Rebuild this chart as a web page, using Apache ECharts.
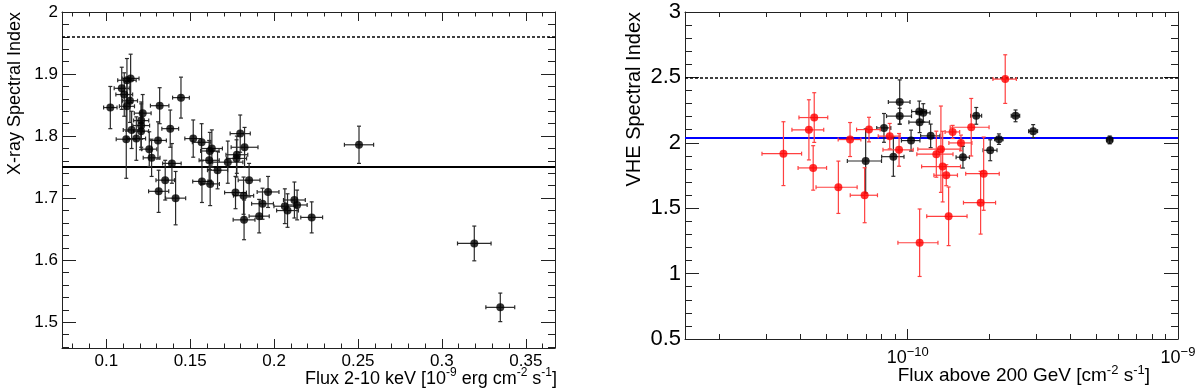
<!DOCTYPE html>
<html><head><meta charset="utf-8">
<script src="https://cdn.jsdelivr.net/npm/echarts@6/dist/echarts.min.js"></script>
<style>html,body{margin:0;padding:0;background:#fff}#c{width:1200px;height:390px}</style>
</head><body><div id="c"></div>
<script>
const FONT = '"Liberation Sans", Arial, Helvetica, sans-serif';

// ---------- Left panel: X-ray ----------
const xrayFlux = [0.1024,0.1092,0.1107,0.1123,0.1145,0.1141,0.1123,0.1217,0.1318,0.1445,0.1208,0.1208,0.1151,0.1207,0.1381,0.1119,0.1179,0.1308,0.1518,0.1568,0.1256,0.1270,0.1391,0.1629,0.1617,0.1613,0.1663,0.1351,0.1312,0.1413,0.1570,0.1619,0.1724,0.1798,0.1824,0.1778,0.1776,0.1851,0.1770,0.1818,0.1821,0.1911,0.1931,0.1964,0.2064,0.2080,0.2121,0.2137,0.2224,0.2506,0.3193,0.3348];
const xrayIndex = [1.846,1.877,1.867,1.890,1.893,1.857,1.848,1.837,1.849,1.862,1.825,1.817,1.810,1.808,1.812,1.795,1.796,1.793,1.796,1.790,1.779,1.765,1.756,1.780,1.776,1.761,1.745,1.729,1.711,1.700,1.727,1.723,1.758,1.804,1.782,1.770,1.764,1.729,1.709,1.704,1.665,1.671,1.691,1.710,1.687,1.680,1.697,1.689,1.669,1.786,1.627,1.524];
const xrayFluxErr = [0.0040,0.0045,0.0050,0.0055,0.0050,0.0045,0.0045,0.0050,0.0055,0.0050,0.0045,0.0050,0.0050,0.0045,0.0050,0.0060,0.0055,0.0050,0.0050,0.0055,0.0045,0.0050,0.0055,0.0063,0.0055,0.0060,0.0060,0.0055,0.0060,0.0060,0.0055,0.0055,0.0090,0.0060,0.0080,0.0065,0.0060,0.0065,0.0065,0.0060,0.0065,0.0060,0.0065,0.0065,0.0065,0.0065,0.0065,0.0060,0.0065,0.0087,0.0100,0.0086];
const xrayIndexErr = [0.034,0.034,0.035,0.035,0.039,0.035,0.040,0.030,0.029,0.033,0.030,0.035,0.030,0.030,0.030,0.063,0.035,0.030,0.030,0.030,0.028,0.030,0.032,0.030,0.030,0.032,0.030,0.032,0.034,0.043,0.034,0.035,0.034,0.030,0.032,0.030,0.030,0.027,0.026,0.030,0.032,0.027,0.025,0.025,0.028,0.027,0.029,0.024,0.025,0.030,0.028,0.023];
const xrayFitIndex = 1.752;
const xrayRefIndex = 1.96;
const xrayXRange = [0.0736, 0.3674];
const xrayYRange = [1.4585, 2.0];
const xrayXMajor = [0.1,0.15,0.2,0.25,0.3,0.35];
const xrayXMinor = [0.08,0.09,0.11,0.12,0.13,0.14,0.16,0.17,0.18,0.19,0.21,0.22,0.23,0.24,0.26,0.27,0.28,0.29,0.31,0.32,0.33,0.34,0.36];
const xrayYMajor = [1.5,1.6,1.7,1.8,1.9,2.0];
const xrayYMinor = [1.46,1.48,1.52,1.54,1.56,1.58,1.62,1.64,1.66,1.68,1.72,1.74,1.76,1.78,1.82,1.84,1.86,1.88,1.92,1.94,1.96,1.98];

// ---------- Right panel: VHE ----------
const vheBlackFlux = [6.99e-11,8.17e-11,8.85e-11,9.34e-11,9.34e-11,1.029e-10,1.104e-10,1.142e-10,1.107e-10,1.216e-10,1.601e-10,1.793e-10,2.020e-10,2.175e-10,2.506e-10,2.912e-10,5.590e-10];
const vheBlackIndex = [1.861,2.114,1.894,2.311,2.204,2.017,2.239,2.229,2.158,2.053,1.890,2.206,1.943,2.028,2.206,2.089,2.022];
const vheBlackFluxErr = [1.01e-11,4.9e-12,8.4e-12,8.6e-12,9.9e-12,8.1e-12,7.0e-12,6.8e-12,9.7e-12,1.00e-11,9.1e-12,8.4e-12,1.20e-11,7.8e-12,9.0e-12,1.11e-11,1.29e-11];
const vheBlackIndexErr = [0.245,0.11,0.15,0.17,0.06,0.08,0.08,0.07,0.08,0.09,0.083,0.064,0.08,0.04,0.045,0.05,0.03];
const vheRedFlux = [3.47e-11,4.31e-11,4.51e-11,4.47e-11,5.54e-11,6.12e-11,6.93e-11,7.19e-11,8.58e-11,9.29e-11,1.107e-10,1.417e-10,1.276e-10,1.327e-10,1.347e-10,1.389e-10,1.466e-10,1.574e-10,1.718e-10,1.910e-10,1.861e-10,2.295e-10];
const vheRedIndex = [1.917,2.099,2.193,1.808,1.660,2.025,1.599,2.101,2.051,1.946,1.236,1.438,1.913,1.951,1.818,1.752,2.083,1.999,2.119,1.764,1.542,2.487];
const vheRedFluxErr = [5.8e-12,5.8e-12,5.5e-12,5.4e-12,9.6e-12,5.9e-12,8.0e-12,7.2e-12,8.0e-12,1.19e-11,1.87e-11,2.41e-11,1.95e-11,2.37e-11,2.21e-11,1.39e-11,9.1e-12,1.54e-11,2.82e-11,2.71e-11,2.53e-11,2.28e-11];
const vheRedIndexErr = [0.244,0.23,0.19,0.17,0.20,0.13,0.21,0.094,0.097,0.125,0.258,0.224,0.176,0.33,0.27,0.08,0.05,0.06,0.22,0.28,0.24,0.186];
const vheFitIndex = 2.043;
const vheRefIndex = 2.5;
const vheXRange = [1.5e-11, 1e-9];
const vheYRange = [0.5, 3];
const vheXMajor = [1e-10, 1e-9];
const vheXMinor = [2e-11,3e-11,4e-11,5e-11,6e-11,7e-11,8e-11,9e-11,2e-10,3e-10,4e-10,5e-10,6e-10,7e-10,8e-10,9e-10];
const vheYMajor = [0.5,1,1.5,2,2.5,3];
const vheYMinor = [0.6,0.7,0.8,0.9,1.1,1.2,1.3,1.4,1.6,1.7,1.8,1.9,2.1,2.2,2.3,2.4,2.6,2.7,2.8,2.9];

const AX = '#222';
function axis(o) {
  return {
    type: o.type || 'value', gridIndex: o.grid, position: o.pos,
    min: o.min, max: o.max, scale: true,
    axisLine: {show: !!o.line, onZero: false, lineStyle: {color: AX, width: 1}},
    axisTick: {show: true, inside: true, length: o.len, customValues: o.ticks, lineStyle: {color: AX, width: 1}},
    axisLabel: o.labels ? Object.assign({show: true, customValues: o.ticks, color: '#000', fontFamily: FONT}, o.labels) : {show: false},
    splitLine: {show: false}, minorTick: {show: false}, axisPointer: {show: false}
  };
}
const L10 = a => a.map(v => Math.log10(v));

function errRender(color) {
  return function (params, api) {
    const x = api.value(0), y = api.value(1), ex = api.value(2), ey = api.value(3);
    const c = api.coord([x, y]);
    const l = api.coord([x - ex, y]), r = api.coord([x + ex, y]);
    const t = api.coord([x, y + ey]), b = api.coord([x, y - ey]);
    const cap = 2;
    const ln = (x1, y1, x2, y2) => ({type: 'line', shape: {x1, y1, x2, y2}, style: {stroke: color, lineWidth: 1.2}});
    return {type: 'group', children: [
      ln(l[0], c[1], r[0], c[1]), ln(c[0], t[1], c[0], b[1]),
      ln(l[0], c[1] - cap, l[0], c[1] + cap), ln(r[0], c[1] - cap, r[0], c[1] + cap),
      ln(c[0] - cap, t[1], c[0] + cap, t[1]), ln(c[0] - cap, b[1], c[0] + cap, b[1])
    ]};
  };
}
function rows(xs, ys, exs, eys) { return xs.map((x, i) => [x, ys[i], exs[i], eys[i]]); }
function hline(v, color, width, type) {
  return {yAxis: v, lineStyle: {color, width, type}};
}

const chart = echarts.init(document.getElementById('c'), null, {renderer: 'canvas'});
const option = {
  animation: false,
  backgroundColor: '#fff',
  textStyle: {fontFamily: FONT},
  grid: [
    {left: 62, top: 12, width: 493, height: 336, outerBoundsMode: 'none', containLabel: false},
    {left: 685, top: 12, width: 493, height: 327, outerBoundsMode: 'none', containLabel: false}
  ],
  xAxis: [
    axis({grid: 0, pos: 'bottom', min: xrayXRange[0], max: xrayXRange[1], line: true, len: 9, ticks: xrayXMajor, labels: {fontSize: 17, margin: 5}}),
    axis({grid: 0, pos: 'bottom', min: xrayXRange[0], max: xrayXRange[1], len: 4.5, ticks: xrayXMinor}),
    axis({grid: 0, pos: 'top', min: xrayXRange[0], max: xrayXRange[1], line: true, len: 9, ticks: xrayXMajor}),
    axis({grid: 0, pos: 'top', min: xrayXRange[0], max: xrayXRange[1], len: 4.5, ticks: xrayXMinor}),
    {type: 'log', gridIndex: 1, position: 'bottom', min: vheXRange[0], max: vheXRange[1], logBase: 10,
      axisLine: {show: false}, axisTick: {show: false}, axisLabel: {show: false}, splitLine: {show: false}, minorTick: {show: false}},
    axis({grid: 1, pos: 'bottom', min: Math.log10(vheXRange[0]), max: Math.log10(vheXRange[1]), line: true, len: 10, ticks: L10(vheXMajor),
      labels: {margin: 7, formatter: v => '{b|10}{s|\u2212' + Math.abs(Math.round(v)) + '}',
        rich: {b: {fontSize: 18, fontFamily: FONT, color: '#000'}, s: {fontSize: 13, fontFamily: FONT, color: '#000', padding: [0, 0, 12, 0]}}}}),
    axis({grid: 1, pos: 'bottom', min: Math.log10(vheXRange[0]), max: Math.log10(vheXRange[1]), len: 5, ticks: L10(vheXMinor)}),
    axis({grid: 1, pos: 'top', min: Math.log10(vheXRange[0]), max: Math.log10(vheXRange[1]), line: true, len: 10, ticks: L10(vheXMajor)}),
    axis({grid: 1, pos: 'top', min: Math.log10(vheXRange[0]), max: Math.log10(vheXRange[1]), len: 5, ticks: L10(vheXMinor)})
  ],
  yAxis: [
    axis({grid: 0, pos: 'left', min: xrayYRange[0], max: xrayYRange[1], line: true, len: 14, ticks: xrayYMajor, labels: {fontSize: 17, margin: 4}}),
    axis({grid: 0, pos: 'left', min: xrayYRange[0], max: xrayYRange[1], len: 7, ticks: xrayYMinor}),
    axis({grid: 0, pos: 'right', min: xrayYRange[0], max: xrayYRange[1], line: true, len: 14, ticks: xrayYMajor}),
    axis({grid: 0, pos: 'right', min: xrayYRange[0], max: xrayYRange[1], len: 7, ticks: xrayYMinor}),
    axis({grid: 1, pos: 'left', min: vheYRange[0], max: vheYRange[1], line: true, len: 14, ticks: vheYMajor, labels: {fontSize: 22, margin: 4}}),
    axis({grid: 1, pos: 'left', min: vheYRange[0], max: vheYRange[1], len: 7, ticks: vheYMinor}),
    axis({grid: 1, pos: 'right', min: vheYRange[0], max: vheYRange[1], line: true, len: 14, ticks: vheYMajor}),
    axis({grid: 1, pos: 'right', min: vheYRange[0], max: vheYRange[1], len: 7, ticks: vheYMinor})
  ],
  series: [
    {type: 'custom', xAxisIndex: 0, yAxisIndex: 0, renderItem: errRender('#2a2a2a'), silent: true, z: 2,
      data: rows(xrayFlux, xrayIndex, xrayFluxErr, xrayIndexErr)},
    {type: 'scatter', xAxisIndex: 0, yAxisIndex: 0, symbol: 'circle', symbolSize: 8, silent: true, z: 3,
      itemStyle: {color: '#000'}, data: xrayFlux.map((x, i) => [x, xrayIndex[i]]),
      markLine: {silent: true, symbol: ['none', 'none'], label: {show: false}, z: 1,
        data: [hline(xrayFitIndex, '#000', 2, 'solid'), hline(xrayRefIndex, '#000', 1.5, [3, 2])]}},
    {type: 'custom', xAxisIndex: 4, yAxisIndex: 4, renderItem: errRender('#2a2a2a'), silent: true, z: 2,
      data: rows(vheBlackFlux, vheBlackIndex, vheBlackFluxErr, vheBlackIndexErr)},
    {type: 'scatter', xAxisIndex: 4, yAxisIndex: 4, symbol: 'circle', symbolSize: 8, silent: true, z: 3,
      itemStyle: {color: '#000'}, data: vheBlackFlux.map((x, i) => [x, vheBlackIndex[i]]),
      markLine: {silent: true, symbol: ['none', 'none'], label: {show: false}, z: 1,
        data: [hline(vheFitIndex, '#0000ff', 2, 'solid'), hline(vheRefIndex, '#000', 1.5, [3, 2])]}},
    {type: 'custom', xAxisIndex: 4, yAxisIndex: 4, renderItem: errRender('#ff4040'), silent: true, z: 4,
      data: rows(vheRedFlux, vheRedIndex, vheRedFluxErr, vheRedIndexErr)},
    {type: 'scatter', xAxisIndex: 4, yAxisIndex: 4, symbol: 'circle', symbolSize: 8, silent: true, z: 5,
      itemStyle: {color: '#ff0000'}, data: vheRedFlux.map((x, i) => [x, vheRedIndex[i]])}
  ],
  graphic: [
    {type: 'text', x: 15, y: 12, rotation: Math.PI / 2,
      style: {text: 'X-ray Spectral Index', fill: '#000', font: '18px ' + FONT, align: 'right', verticalAlign: 'middle'}},
    {type: 'text', x: 634, y: 12, rotation: Math.PI / 2,
      style: {text: 'VHE Spectral Index', fill: '#000', font: '20px ' + FONT, align: 'right', verticalAlign: 'middle'}},
    {type: 'text', x: 557, y: 379,
      style: {text: '{a|Flux 2-10 keV [10}{s|-9}{a| erg cm}{s|-2}{a| s}{s|-1}{a|]}', align: 'right', verticalAlign: 'middle',
        rich: {a: {fontSize: 18, fontFamily: FONT, fill: '#000'}, s: {fontSize: 12, fontFamily: FONT, fill: '#000', padding: [0, 0, 12, 0]}}}},
    {type: 'text', x: 1150, y: 376,
      style: {text: '{a|Flux above 200 GeV [cm}{s|-2}{a| s}{s|-1}{a|]}', align: 'right', verticalAlign: 'middle',
        rich: {a: {fontSize: 19, fontFamily: FONT, fill: '#000'}, s: {fontSize: 13, fontFamily: FONT, fill: '#000', padding: [0, 0, 12, 0]}}}}
  ]
};
chart.setOption(option);
</script>
</body></html>
